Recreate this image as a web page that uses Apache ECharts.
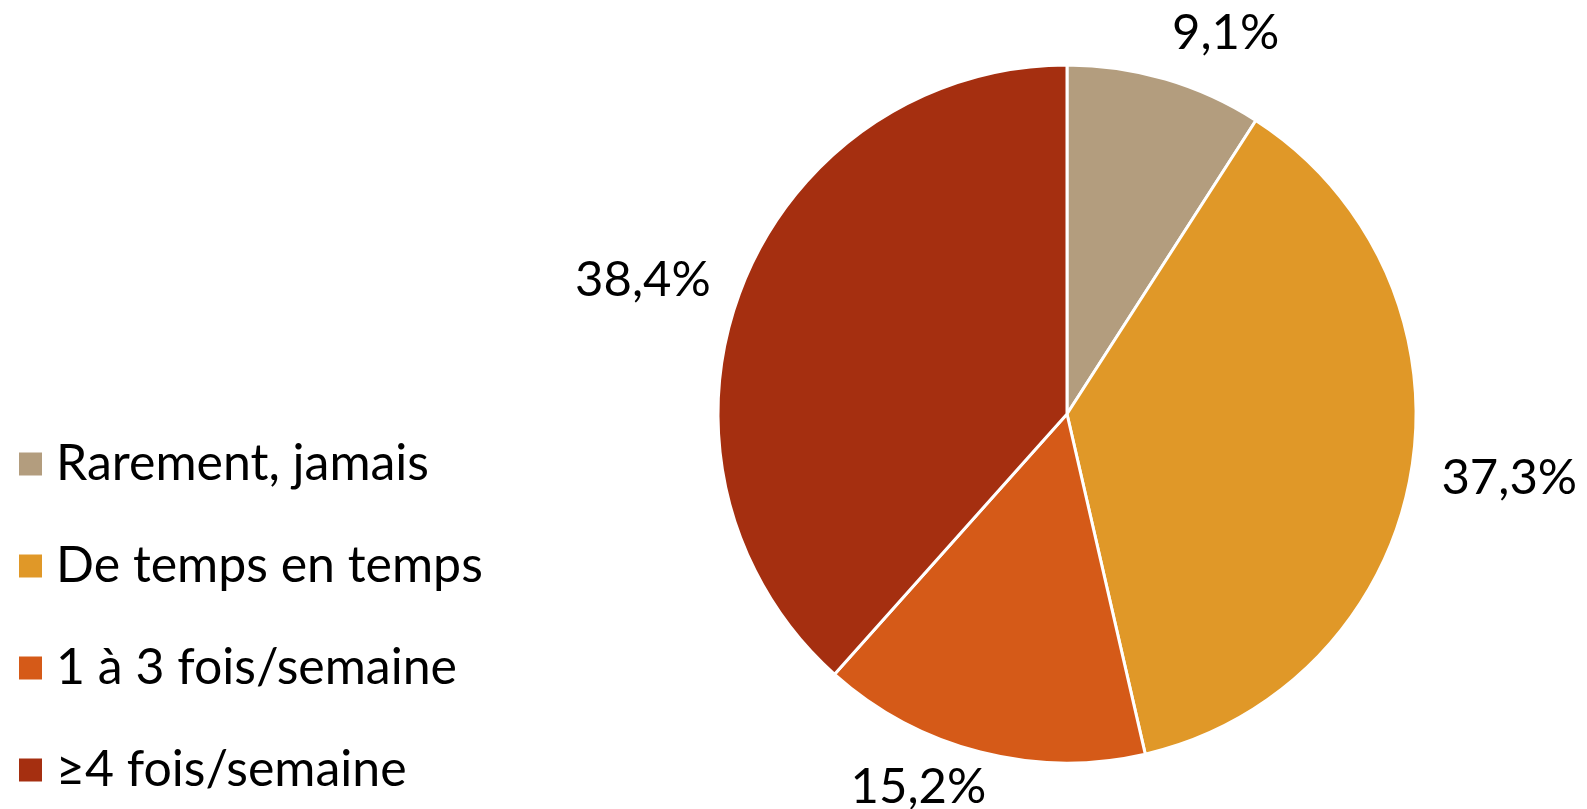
<!DOCTYPE html>
<html>
<head>
<meta charset="utf-8">
<script src="https://cdn.jsdelivr.net/npm/echarts@6/dist/echarts.min.js"></script>
<style>
  html, body { margin: 0; padding: 0; background: #ffffff; }
  #chart { width: 1587px; height: 809px; }
</style>
</head>
<body>
<div id="chart"></div>
<script>
// Frequency categories and their shares (%)
const categories = ['Rarement, jamais', 'De temps en temps', '1 à 3 fois/semaine', '≥4 fois/semaine'];
const shares = [9.1, 37.3, 15.2, 38.4];

// Slice colours, in category order
const sliceColors = ['#B39D7E', '#E09828', '#D55A18', '#A52F10'];
// Outside label placement: radial reach beyond the rim and horizontal step
const labelReach = [48, 26, 36, 27];
const labelStep = [-12, 0, -20, 0];

const FONT = 'Lato, "Open Sans", sans-serif';

const pieData = categories.map((name, i) => ({
  name: name,
  value: shares[i],
  itemStyle: { color: sliceColors[i] },
  labelLine: { length: labelReach[i], length2: labelStep[i] }
}));

const chart = echarts.init(document.getElementById('chart'), null, { renderer: 'canvas' });
chart.setOption({
  backgroundColor: '#ffffff',
  animation: false,
  legend: {
    orient: 'vertical',
    left: 17,
    top: 439,
    padding: 0,
    itemWidth: 25,
    itemHeight: 25,
    itemGap: 52,
    icon: 'rect',
    selectedMode: false,
    textStyle: { fontFamily: FONT, fontSize: 50, color: '#000000', lineHeight: 50, padding: [0, 0, 0, 8] },
    data: categories
  },
  series: [{
    type: 'pie',
    center: [1067, 414],
    radius: 349,
    startAngle: 90,
    clockwise: true,
    avoidLabelOverlap: false,
    itemStyle: { borderColor: '#ffffff', borderWidth: 3 },
    label: {
      show: true,
      position: 'outside',
      distanceToLabelLine: 5,
      fontFamily: FONT,
      fontSize: 49,
      color: '#000000',
      formatter: p => p.value.toFixed(1).replace('.', ',') + '%'
    },
    labelLine: { show: false },
    emphasis: { disabled: true },
    data: pieData
  }]
});
</script>
</body>
</html>
